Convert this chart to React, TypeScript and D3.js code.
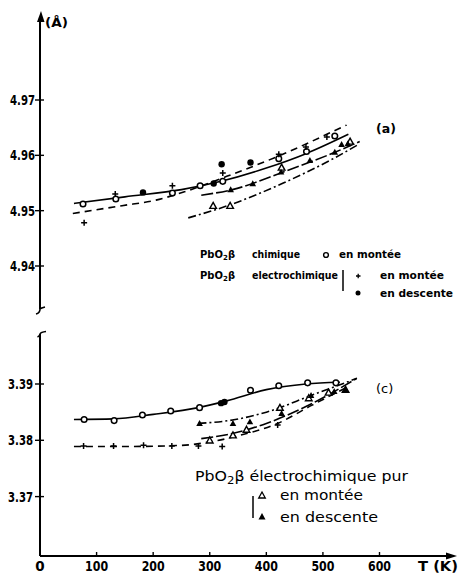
import React from 'react';
import * as d3 from 'd3';

// axis ticks
const xTicks = [0, 100, 200, 300, 400, 500, 600];
const topTicks = [4.94, 4.95, 4.96, 4.97];
const botTicks = [3.37, 3.38, 3.39];

// panel (a) - PbO2 beta, a parameter
const aOpenCircT = [76, 134, 234, 283, 323, 422, 471, 521];
const aOpenCircV = [4.9512, 4.9521, 4.9532, 4.9545, 4.9553, 4.9594, 4.9607, 4.9635];
const aFilledCircT = [182, 307, 321, 372];
const aFilledCircV = [4.9533, 4.9549, 4.9584, 4.9587];
const aPlusT = [78, 133, 234, 323, 422, 470, 507];
const aPlusV = [4.9478, 4.953, 4.9545, 4.9568, 4.9602, 4.9615, 4.9633];
const aOpenTriT = [306, 336, 427, 548];
const aOpenTriV = [4.9509, 4.9509, 4.9578, 4.9625];
const aFilledTriT = [337, 376, 426, 477, 521, 533, 544];
const aFilledTriV = [4.9538, 4.9549, 4.957, 4.9591, 4.9606, 4.962, 4.9621];

// fitted curves (a)
const aSolidT = [60, 150, 250, 320, 400, 470, 545];
const aSolidV = [4.9513, 4.9525, 4.9538, 4.9553, 4.9577, 4.9603, 4.9638];
const aDashT = [58, 145, 205, 255, 330, 420, 542];
const aDashV = [4.9495, 4.9509, 4.9519, 4.9534, 4.9562, 4.9598, 4.9655];
const aLongDashT = [285, 340, 430, 520, 565];
const aLongDashV = [4.9528, 4.9538, 4.957, 4.9605, 4.9625];
const aDashDotT = [262, 340, 430, 520, 560];
const aDashDotV = [4.9487, 4.9512, 4.955, 4.9595, 4.9618];

// panel (c)
const cOpenCircT = [78, 131, 181, 231, 282, 372, 422, 473, 523];
const cOpenCircV = [3.3837, 3.3835, 3.3845, 3.3852, 3.3858, 3.3889, 3.3897, 3.3902, 3.3902];
const cFilledCircT = [320, 326];
const cFilledCircV = [3.3866, 3.3868];
const cPlusT = [77, 130, 183, 233, 280, 322, 420];
const cPlusV = [3.379, 3.379, 3.3791, 3.379, 3.379, 3.3789, 3.3827];
const cOpenTriT = [300, 341, 365, 424, 475, 510, 540];
const cOpenTriV = [3.38, 3.3809, 3.3819, 3.3858, 3.3875, 3.3885, 3.389];
const cFilledTriT = [282, 341, 371, 427, 479, 520, 540];
const cFilledTriV = [3.383, 3.383, 3.3833, 3.3848, 3.388, 3.3887, 3.389];

const cSolidT = [60, 130, 200, 280, 330, 400, 470, 530];
const cSolidV = [3.3837, 3.3838, 3.3846, 3.3858, 3.387, 3.389, 3.39, 3.3903];
const cDashT = [60, 150, 250, 300, 350, 420, 480, 540];
const cDashV = [3.3789, 3.3789, 3.3791, 3.3797, 3.3808, 3.383, 3.3862, 3.3893];
const cDashDotT = [280, 340, 400, 480, 560];
const cDashDotV = [3.383, 3.3836, 3.385, 3.388, 3.391];
const cLongDashT = [285, 340, 400, 470, 560];
const cLongDashV = [3.3803, 3.3812, 3.383, 3.386, 3.391];

const x = d3.scaleLinear().domain([0, 600]).range([40, 379.5]);
const yA = d3.scaleLinear().domain([4.94, 4.97]).range([266, 100]);
const yC = d3.scaleLinear().domain([3.37, 3.39]).range([496.6, 384]);

const font = "'DejaVu Sans', sans-serif";

const zip = (t: number[], v: number[]) => t.map((d, i) => [d, v[i]] as [number, number]);

function Curve({ t, v, y, dash }: { t: number[]; v: number[]; y: d3.ScaleLinear<number, number>; dash?: string }) {
  const line = d3.line<[number, number]>().x(d => x(d[0])).y(d => y(d[1])).curve(d3.curveMonotoneX);
  return <path d={line(zip(t, v)) || ''} fill="none" stroke="#000" strokeWidth={1.6} strokeDasharray={dash} />;
}

function Marks({ t, v, y, kind }: { t: number[]; v: number[]; y: d3.ScaleLinear<number, number>; kind: string }) {
  return (
    <g>
      {zip(t, v).map((d, i) => {
        const cx = x(d[0]);
        const cy = y(d[1]);
        if (kind === 'oc') return <circle key={i} cx={cx} cy={cy} r={2.8} fill="#fff" stroke="#000" strokeWidth={1.5} />;
        if (kind === 'fc') return <circle key={i} cx={cx} cy={cy} r={3.2} fill="#000" />;
        if (kind === 'plus')
          return <path key={i} d={`M${cx - 3},${cy}h6M${cx},${cy - 3}v6`} stroke="#000" strokeWidth={1.5} />;
        const s = 3.3;
        const p = `M${cx},${cy - s}L${cx + s},${cy + s * 0.8}L${cx - s},${cy + s * 0.8}Z`;
        if (kind === 'ot') return <path key={i} d={p} fill="#fff" stroke="#000" strokeWidth={1.4} />;
        return <path key={i} d={p} fill="#000" />;
      })}
    </g>
  );
}

export default function App() {
  const dash = '7,5';
  const dashDot = '8,3,2,3';
  const longDash = '12,3';
  return (
    <svg width={460} height={574} style={{ position: 'absolute', left: 0, top: 0, background: '#fff' }} fontFamily={font}>
      {/* y axis, upper part with arrow */}
      <line x1={40} y1={18} x2={40} y2={309} stroke="#000" strokeWidth={2} />
      <path d="M41,11L37,22L44.5,22Z" fill="#000" />
      <path d="M36,314Q40,313 40,309Q41,308 45,307" fill="none" stroke="#000" strokeWidth={1.6} />
      <text x={45} y={27} fontSize={13} fontWeight="bold" textLength={23} lengthAdjust="spacingAndGlyphs">(Å)</text>
      {/* y axis, lower part */}
      <path d="M37.5,337Q40,336 40,334Q41,332 46,331.5" fill="none" stroke="#000" strokeWidth={1.6} />
      <line x1={40} y1={334} x2={40} y2={556} stroke="#000" strokeWidth={2} />
      {/* x axis */}
      <line x1={40} y1={556} x2={450} y2={556} stroke="#000" strokeWidth={2} />
      <path d="M457,556L446,552.5L446,559.5Z" fill="#000" />

      <g fontSize={13.5} fontWeight="bold">
        {topTicks.map(v => (
          <g key={v}>
            <line x1={35} x2={44} y1={yA(v)} y2={yA(v)} stroke="#000" strokeWidth={1.4} />
            <text x={10} y={yA(v) + 5} textLength={25} lengthAdjust="spacingAndGlyphs">{v.toFixed(2)}</text>
          </g>
        ))}
        {botTicks.map(v => (
          <g key={v}>
            <line x1={35} x2={44} y1={yC(v)} y2={yC(v)} stroke="#000" strokeWidth={1.4} />
            <text x={8} y={yC(v) + 5} textLength={25} lengthAdjust="spacingAndGlyphs">{v.toFixed(2)}</text>
          </g>
        ))}
        {xTicks.map(v => (
          <g key={v}>
            <line x1={x(v)} x2={x(v)} y1={552} y2={556} stroke="#000" strokeWidth={1.4} />
            {v === 0 ? (
              <text x={x(v)} y={571} textAnchor="middle">0</text>
            ) : (
              <text x={x(v) - 11.5} y={571} textLength={23} lengthAdjust="spacingAndGlyphs">{v}</text>
            )}
          </g>
        ))}
        <text x={418} y={571} textLength={40} lengthAdjust="spacingAndGlyphs">T (K)</text>
      </g>

      {/* panel (a) */}
      <Curve t={aSolidT} v={aSolidV} y={yA} />
      <Curve t={aDashT} v={aDashV} y={yA} dash={dash} />
      <Curve t={aLongDashT} v={aLongDashV} y={yA} dash={longDash} />
      <Curve t={aDashDotT} v={aDashDotV} y={yA} dash={dashDot} />
      <Marks t={aOpenCircT} v={aOpenCircV} y={yA} kind="oc" />
      <Marks t={aFilledCircT} v={aFilledCircV} y={yA} kind="fc" />
      <Marks t={aPlusT} v={aPlusV} y={yA} kind="plus" />
      <Marks t={aOpenTriT} v={aOpenTriV} y={yA} kind="ot" />
      <Marks t={aFilledTriT} v={aFilledTriV} y={yA} kind="ft" />
      <text x={376} y={133} fontSize={12.5} fontWeight="bold">(a)</text>

      {/* legend (a) */}
      <g fontSize={10} fontWeight="bold">
        <text x={200} y={258}>PbO<tspan fontSize={7} dy={2}>2</tspan><tspan dy={-2}>β</tspan></text>
        <text x={252} y={258} textLength={48} lengthAdjust="spacingAndGlyphs">chimique</text>
        <circle cx={326} cy={255} r={2.4} fill="#fff" stroke="#000" strokeWidth={1.4} />
        <text x={339} y={258} textLength={62} lengthAdjust="spacingAndGlyphs">en  montée</text>
        <text x={200} y={279}>PbO<tspan fontSize={7} dy={2}>2</tspan><tspan dy={-2}>β</tspan></text>
        <text x={252} y={279} textLength={86} lengthAdjust="spacingAndGlyphs">electrochimique</text>
        <line x1={343} x2={343} y1={270} y2={291} stroke="#000" strokeWidth={1.5} />
        <path d="M356,276h4.5M358.2,273.8v4.5" stroke="#000" strokeWidth={1.3} />
        <text x={380} y={279} textLength={64} lengthAdjust="spacingAndGlyphs">en  montée</text>
        <circle cx={358} cy={293} r={2.5} fill="#000" />
        <text x={380} y={297} textLength={73} lengthAdjust="spacingAndGlyphs">en  descente</text>
      </g>

      {/* panel (c) */}
      <Curve t={cSolidT} v={cSolidV} y={yC} />
      <Curve t={cDashT} v={cDashV} y={yC} dash={dash} />
      <Curve t={cDashDotT} v={cDashDotV} y={yC} dash={dashDot} />
      <Curve t={cLongDashT} v={cLongDashV} y={yC} dash={longDash} />
      <Marks t={cOpenCircT} v={cOpenCircV} y={yC} kind="oc" />
      <Marks t={cFilledCircT} v={cFilledCircV} y={yC} kind="fc" />
      <Marks t={cPlusT} v={cPlusV} y={yC} kind="plus" />
      <Marks t={cOpenTriT} v={cOpenTriV} y={yC} kind="ot" />
      <Marks t={cFilledTriT} v={cFilledTriV} y={yC} kind="ft" />
      <text x={376} y={393} fontSize={13}>(c)</text>

      {/* legend (c) */}
      <g fontSize={13.5}>
        <text x={195} y={481} textLength={213} lengthAdjust="spacingAndGlyphs">PbO<tspan fontSize={10} dy={3}>2</tspan><tspan dy={-3}>β</tspan> électrochimique   pur</text>
        <line x1={253} x2={253} y1={496} y2={518} stroke="#000" strokeWidth={1.5} />
        <path d="M262,492L265.3,498L258.7,498Z" fill="#fff" stroke="#000" strokeWidth={1.3} />
        <text x={280} y={500} textLength={83} lengthAdjust="spacingAndGlyphs">en  montée</text>
        <path d="M262,513L265.5,519.5L258.5,519.5Z" fill="#000" />
        <text x={280} y={521.5} textLength={98} lengthAdjust="spacingAndGlyphs">en  descente</text>
      </g>
    </svg>
  );
}
